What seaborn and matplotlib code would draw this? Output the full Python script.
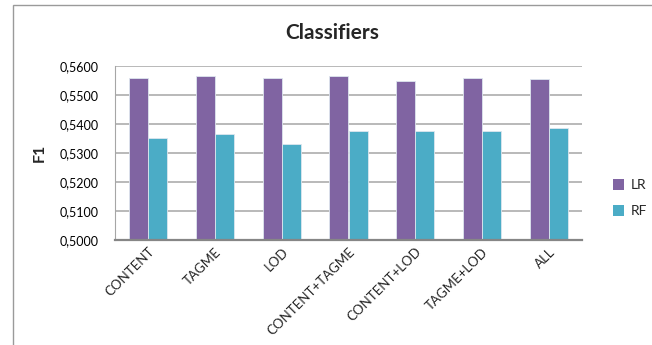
import matplotlib
matplotlib.use("Agg")
import matplotlib.pyplot as plt
import seaborn as sns
import pandas as pd
from matplotlib.patches import Rectangle, Patch
from matplotlib.ticker import FuncFormatter

categories = ["CONTENT", "TAGME", "LOD", "CONTENT+TAGME", "CONTENT+LOD", "TAGME+LOD", "ALL"]
lr_values = [0.5557, 0.5566, 0.5557, 0.5563, 0.5548, 0.5559, 0.5554]
rf_values = [0.5350, 0.5366, 0.5332, 0.5375, 0.5374, 0.5376, 0.5385]
series_names = ["LR", "RF"]
colors = ["#8064A2", "#4BACC6"]

df = pd.DataFrame({
    "cat": categories * 2,
    "F1": lr_values + rf_values,
    "clf": [series_names[0]] * len(categories) + [series_names[1]] * len(categories),
})

sns.set_style("white")
plt.rcParams["font.family"] = ["Lato", "DejaVu Sans"]

fig = plt.figure(figsize=(6.52, 3.45), dpi=100)
ax = fig.add_axes([115/652, 1 - 240/345, (582-115)/652, (240-65.7)/345])

sns.barplot(data=df, x="cat", y="F1", hue="clf", palette=colors, width=0.57,
            ax=ax, saturation=1, edgecolor="#dde6ee", linewidth=0.6, legend=False, zorder=3)

ax.set_ylim(0.5, 0.56)
ax.set_yticks([0.50, 0.51, 0.52, 0.53, 0.54, 0.55, 0.56])
ax.yaxis.set_major_formatter(FuncFormatter(lambda v, p: f"{v:.4f}".replace(".", ",")))
ax.grid(axis="y", color="#b3b3b3", linewidth=1.3, zorder=0)
ax.set_axisbelow(True)
for s in ["top", "right"]:
    ax.spines[s].set_visible(False)
ax.spines["left"].set_color("#a6a6a6")
ax.spines["left"].set_linewidth(0.8)
ax.spines["bottom"].set_color("#868686")
ax.spines["bottom"].set_linewidth(1.6)
ax.spines["bottom"].set_zorder(5)
ax.tick_params(axis="y", length=0, labelsize=9, pad=12, colors="black")
ax.tick_params(axis="x", length=0, labelsize=9.5, pad=4)
ax.set_xticks(range(len(categories)))
ax.set_xticklabels(categories, rotation=45, ha="right", rotation_mode="anchor")
ax.set_xlabel("")
ax.set_ylabel("F1", fontsize=11.5, fontweight="bold", labelpad=9)
ax.set_xlim(-0.5, len(categories) - 0.5)

fig.text(332/652, 1 - 33/345, "Classifiers", ha="center", va="center",
         fontsize=15, fontweight="bold")

handles = [Patch(facecolor=c, edgecolor="none") for c in colors]
fig.legend(handles, series_names, loc="center left", bbox_to_anchor=(600/652, 1 - 198/345),
           frameon=False, fontsize=10, handlelength=0.8, handleheight=0.8,
           handletextpad=0.5, labelspacing=1.0)

fig.patches.append(Rectangle((13/652, -0.1), 1.0, 1 - 5/345 + 0.1, transform=fig.transFigure,
                             fill=False, edgecolor="#9a9a9a", linewidth=1.0))

fig.savefig("out.png", dpi=100)
